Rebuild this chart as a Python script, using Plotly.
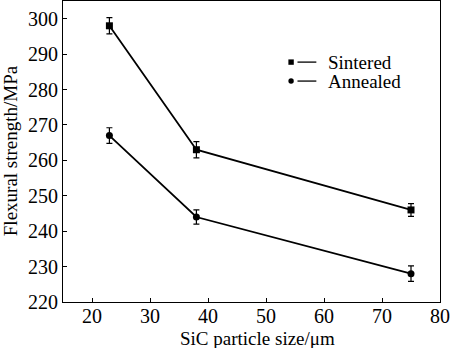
import plotly.graph_objects as go

# SiC particle size (um)
sizes = [23, 38, 75]

# Flexural strength (MPa) and error bar half-widths
sintered = [298, 263, 246]
sintered_err = [2.3, 2.3, 1.8]
annealed = [267, 244, 228]
annealed_err = [2.2, 2.0, 2.2]

font_family = "Times New Roman, Liberation Serif, DejaVu Serif, serif"
fs_tick = 20
fs_text = 19

fig = go.Figure()

fig.add_trace(go.Scatter(
    x=sizes, y=sintered, name="Sintered", mode="lines+markers",
    line=dict(color="black", width=1.8),
    marker=dict(symbol="square", size=7, color="black"),
    error_y=dict(type="data", array=sintered_err, color="black", thickness=1.2, width=3),
    showlegend=False,
))
fig.add_trace(go.Scatter(
    x=sizes, y=annealed, name="Annealed", mode="lines+markers",
    line=dict(color="black", width=1.8),
    marker=dict(symbol="circle", size=7, color="black"),
    error_y=dict(type="data", array=annealed_err, color="black", thickness=1.2, width=3),
    showlegend=False,
))

# Legend drawn as marker + dash + label
legend_items = [("rect", "Sintered", 0.797), ("circle", "Annealed", 0.734)]
shapes = []
annotations = []
for kind, label, yp in legend_items:
    shapes.append(dict(type=kind, xref="paper", yref="paper",
                       xsizemode="pixel", ysizemode="pixel",
                       xanchor=0.605, yanchor=yp,
                       x0=-2.7, x1=2.7, y0=-2.7, y1=2.7,
                       fillcolor="black", line=dict(width=0)))
    shapes.append(dict(type="line", xref="paper", yref="paper",
                       x0=0.622, x1=0.672, y0=yp, y1=yp,
                       line=dict(color="black", width=1.3)))
    annotations.append(dict(xref="paper", yref="paper", x=0.697, y=yp,
                            text=label, showarrow=False, xanchor="left",
                            yanchor="middle",
                            font=dict(family=font_family, size=fs_text, color="black")))

# Axis titles
annotations.append(dict(xref="paper", yref="paper", x=0.516, y=-0.12,
                        text="SiC particle size/μm", showarrow=False,
                        xanchor="center", yanchor="middle",
                        font=dict(family=font_family, size=fs_text, color="black")))
annotations.append(dict(xref="paper", yref="paper", x=-0.139, y=0.503,
                        text="Flexural strength/MPa", showarrow=False, textangle=-90,
                        xanchor="center", yanchor="middle",
                        font=dict(family=font_family, size=fs_text, color="black")))

fig.update_layout(
    width=450, height=348,
    margin=dict(l=63, r=10, t=1, b=46),
    paper_bgcolor="white", plot_bgcolor="white",
    font=dict(family=font_family, size=fs_tick, color="black"),
    shapes=shapes, annotations=annotations,
    xaxis=dict(
        range=[15, 80], tickvals=[20, 30, 40, 50, 60, 70, 80],
        ticks="inside", ticklen=4, tickwidth=1, tickcolor="black",
        ticklabelstandoff=-4,
        showline=True, linecolor="black", linewidth=1, mirror=True,
        showgrid=False, zeroline=False,
        tickfont=dict(family=font_family, size=fs_tick),
    ),
    yaxis=dict(
        range=[220, 305], tickvals=[220, 230, 240, 250, 260, 270, 280, 290, 300],
        ticks="inside", ticklen=4, tickwidth=1, tickcolor="black",
        showline=True, linecolor="black", linewidth=1, mirror=True,
        showgrid=False, zeroline=False,
        tickfont=dict(family=font_family, size=fs_tick),
    ),
)

fig.write_html("out.html")
